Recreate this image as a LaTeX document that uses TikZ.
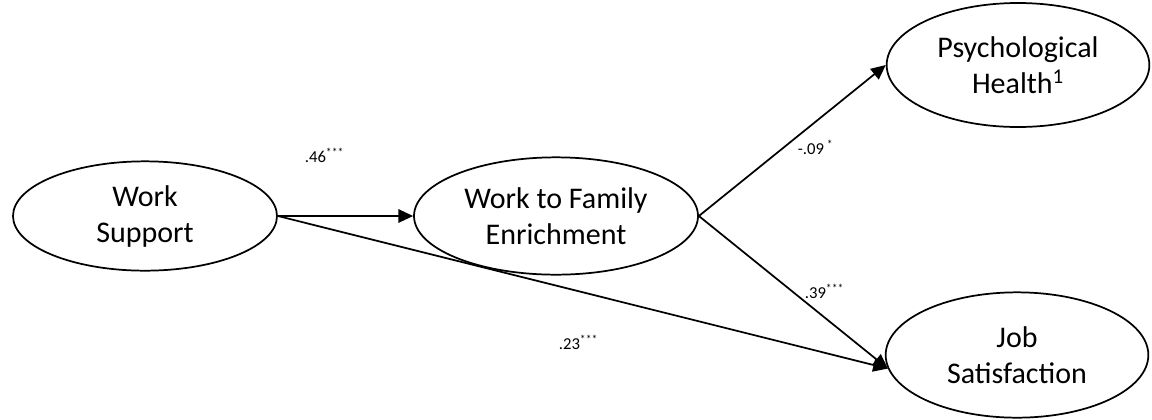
\documentclass[tikz,border=0pt]{standalone}
\usepackage{fontspec}
\setmainfont{Carlito}
\usetikzlibrary{shapes.geometric,arrows.meta}
\tikzset{>={Triangle[length=11pt,width=10pt]}}
\tikzset{
  factor/.style={ellipse, draw, line width=1.3pt, inner sep=0pt, align=center,
    font=\fontsize{22.5}{27}\selectfont},
  coef/.style={inner sep=0pt, font=\fontsize{12.5}{14}\selectfont}
}

\begin{document}
\begin{tikzpicture}[x=0.75pt, y=-0.75pt, line width=1.3pt]
    \useasboundingbox (0,0) rectangle (1152,419);
    \node[factor, minimum width=198pt, minimum height=82pt] (ws) at (145,216) {Work\\Support};
    \node[factor, minimum width=213pt, minimum height=88pt] (wfe) at (556,216) {Work to Family\\Enrichment};
    \node[factor, minimum width=197pt, minimum height=93pt] (ph) at (1018,65) {Psychological\\Health\textsuperscript{1}};
    \node[factor, minimum width=197pt, minimum height=94pt] (js) at (1017,355) {Job\\Satisfaction};
    \path[->] (ws.east) edge (wfe.west)
              (wfe.east) edge (ph.west)
              (wfe.east) edge (js.186)
              (ws.east) edge (js.186);
    % path coefficients
    \node[coef, anchor=base west] (c46) at (304,162) {.46\textsuperscript{***}};
    \node[coef, anchor=base west] (c09) at (797,154) {-.09\,\textsuperscript{*}};
    \node[coef, anchor=base west] (c39) at (804,298) {.39\textsuperscript{***}};
    \node[coef, anchor=base west] (c23) at (558,349) {.23\textsuperscript{***}};
\end{tikzpicture}
\end{document}
